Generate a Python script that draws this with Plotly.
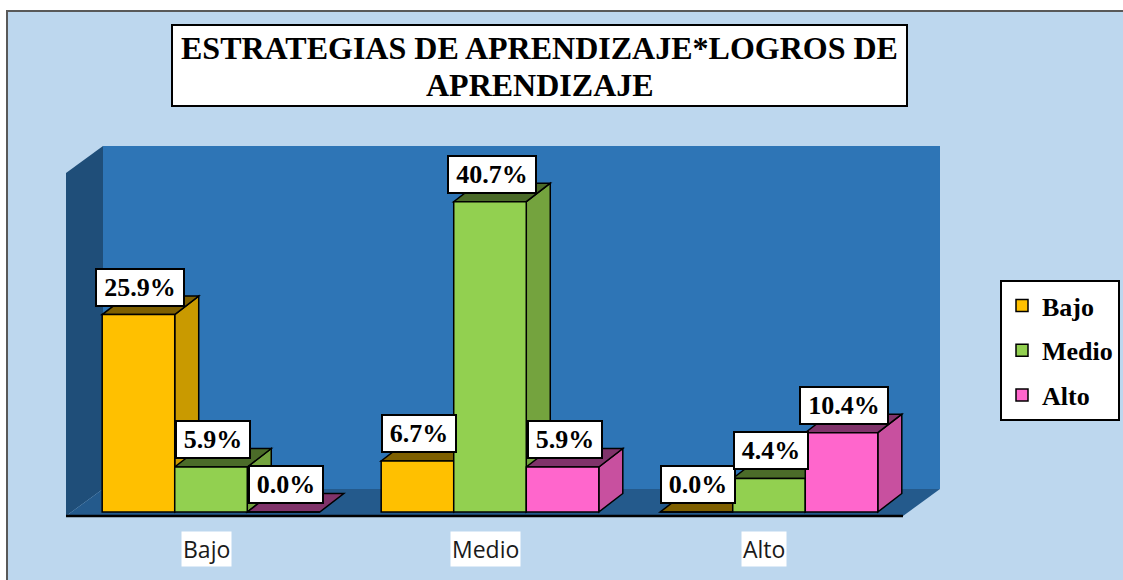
import plotly.graph_objects as go

# ---------------- data ----------------
categories = ["Bajo", "Medio", "Alto"]          # x-axis groups
series_names = ["Bajo", "Medio", "Alto"]        # legend series
bajo_values = [25.9, 6.7, 0.0]
medio_values = [5.9, 40.7, 4.4]
alto_values = [0.0, 5.9, 10.4]
title_lines = ["ESTRATEGIAS DE APRENDIZAJE*LOGROS DE", "APRENDIZAJE"]

series_values = [bajo_values, medio_values, alto_values]

# ---------------- style ----------------
front_colors = ["#FFC000", "#92D050", "#FF66CC"]
side_colors = ["#C99A00", "#74A33E", "#C8509F"]
top_colors = ["#7F6000", "#4B6B29", "#80336A"]
BG_LIGHT = "#BDD7EE"
WALL_BACK = "#2E75B6"
WALL_LEFT = "#1F4E79"
FLOOR = "#245A8C"
SERIF = "Liberation Serif, Times New Roman, serif"
SANS = "Open Sans, Noto Sans, sans-serif"

W, H = 1123, 580
L, R, T, B = 40, 960, 130, 530          # plot area in pixels
X0PX, XUNIT = 211.0, 279.0               # pixel of category 0, px per category
Y0PX, YUNIT = 512.0, 7.624               # pixel of value 0, px per percent
BARGAP = 0.22
n_series = len(series_names)
bw = (1 - BARGAP) / n_series
DX = 24 / XUNIT                          # bar depth offset (data units)
DY = 18.5 / YUNIT


def xd(px):
    return (px - X0PX) / XUNIT


def yd(py):
    return (Y0PX - py) / YUNIT


def xp(px):
    return (px - L) / (R - L)


def yp(py):
    return (B - py) / (B - T)


def path(pts):
    return "M " + " L ".join(f"{x:.4f},{y:.4f}" for x, y in pts) + " Z"


xs = list(range(len(categories)))
fig = go.Figure()
for k, name in enumerate(series_names):
    fig.add_trace(go.Bar(
        x=xs, y=series_values[k], name=name, legendgroup=name,
        customdata=categories,
        hovertemplate="%{customdata}: %{y:.1f}%<extra>" + name + "</extra>",
        marker=dict(color=front_colors[k], line=dict(color="black", width=1.5)),
    ))

shapes = []
# chart area background with border
shapes.append(dict(type="rect", xref="paper", yref="paper",
                   x0=xp(7), x1=xp(1135), y0=yp(11), y1=yp(595),
                   fillcolor=BG_LIGHT, line=dict(color="#595959", width=2),
                   layer="below"))
# back wall
shapes.append(dict(type="path", xref="x", yref="y", layer="below",
                   path=path([(xd(103), yd(146)), (xd(940), yd(146)),
                              (xd(940), yd(489)), (xd(103), yd(489))]),
                   fillcolor=WALL_BACK, line=dict(width=0)))
# left wall
shapes.append(dict(type="path", xref="x", yref="y", layer="below",
                   path=path([(xd(66), yd(173)), (xd(103), yd(146)),
                              (xd(103), yd(489)), (xd(66), yd(516))]),
                   fillcolor=WALL_LEFT, line=dict(width=0)))
# floor
shapes.append(dict(type="path", xref="x", yref="y", layer="below",
                   path=path([(xd(66), yd(516)), (xd(903), yd(516)),
                              (xd(940), yd(489)), (xd(103), yd(489))]),
                   fillcolor=FLOOR, line=dict(width=0)))
# front axis line
shapes.append(dict(type="line", xref="x", yref="y", layer="below",
                   x0=xd(66), x1=xd(903), y0=yd(516), y1=yd(516),
                   line=dict(color="black", width=2.5)))

# 3D side and top faces of each bar, drawn left to right
for i in xs:
    for k in range(n_series):
        v = series_values[k][i]
        x0 = i - (1 - BARGAP) / 2 + k * bw
        x1 = x0 + bw
        if v > 0:
            shapes.append(dict(type="path", xref="x", yref="y", layer="below",
                               path=path([(x1, 0), (x1 + DX, DY), (x1 + DX, v + DY), (x1, v)]),
                               fillcolor=side_colors[k], line=dict(color="black", width=1.5)))
        shapes.append(dict(type="path", xref="x", yref="y", layer="below",
                           path=path([(x0, v), (x1, v), (x1 + DX, v + DY), (x0 + DX, v + DY)]),
                           fillcolor=top_colors[k], line=dict(color="black", width=1.5)))

# title box
shapes.append(dict(type="rect", xref="paper", yref="paper", layer="above",
                   x0=xp(172), x1=xp(907), y0=yp(25), y1=yp(106),
                   fillcolor="white", line=dict(color="black", width=2)))

annotations = []
for j, line in enumerate(title_lines):
    annotations.append(dict(text=line, xref="paper", yref="paper",
                            x=xp(539.5), y=yp(48 + 37 * j), xanchor="center", yanchor="middle",
                            showarrow=False,
                            font=dict(family=SERIF, size=32, color="black", weight="bold")))
# value labels
for i in xs:
    for k in range(n_series):
        v = series_values[k][i]
        txt = f"{v:.1f}%"
        cx = i - (1 - BARGAP) / 2 + k * bw + bw / 2
        annotations.append(dict(text=txt, xref="x", yref="y", x=cx, y=v,
                                xanchor="center", yanchor="bottom", xshift=2, yshift=8,
                                showarrow=False, bgcolor="white", bordercolor="black",
                                borderwidth=2, borderpad=2, width=14 * len(txt) + 12, height=31,
                                font=dict(family=SERIF, size=26, color="black", weight="bold")))
# category labels
for i, c in enumerate(categories):
    annotations.append(dict(text=c, xref="x", yref="paper", x=i, y=yp(549),
                            xanchor="center", yanchor="middle", xshift=-5,
                            showarrow=False, bgcolor="white", borderpad=1,
                            font=dict(family=SANS, size=23, color="#1a1a1a")))

fig.update_layout(
    width=W, height=H, autosize=False,
    margin=dict(l=L, r=W - R, t=T, b=H - B, pad=0, autoexpand=False),
    paper_bgcolor="white", plot_bgcolor="rgba(0,0,0,0)",
    barmode="group", bargap=BARGAP, bargroupgap=0,
    shapes=shapes, annotations=annotations,
    showlegend=True,
    legend=dict(x=xp(1000), y=yp(280), xanchor="left", yanchor="top",
                bgcolor="white", bordercolor="black", borderwidth=2,
                tracegroupgap=8, traceorder="grouped",
                font=dict(family=SERIF, size=26, color="black", weight="bold")),
    xaxis=dict(range=[xd(L), xd(R)], visible=False, fixedrange=True),
    yaxis=dict(range=[yd(B), yd(T)], visible=False, fixedrange=True),
)

post = (
    "document.documentElement.style.margin='0';"
    "document.body.style.margin='0';"
    "document.body.style.overflow='hidden';"
    "document.documentElement.style.overflow='hidden';"
    "var gd=document.getElementById('{plot_id}');"
    "if(gd){gd.style.display='block';gd.style.lineHeight='0';"
    "var c=gd.querySelector('.svg-container');if(c){c.style.display='block';}}"
)
fig.write_html("out.html", include_plotlyjs=True, config={"displayModeBar": False},
               post_script=post)
